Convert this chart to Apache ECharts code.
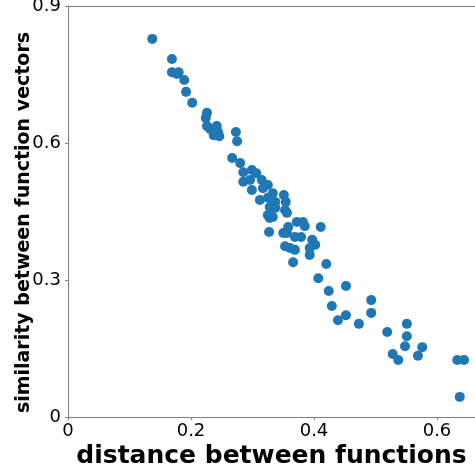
<!DOCTYPE html>
<html>
<head>
<meta charset="utf-8">
<script src="https://cdn.jsdelivr.net/npm/echarts@6/dist/echarts.min.js"></script>
<style>html,body{margin:0;padding:0;background:#fff}#c{width:475px;height:467px}</style>
</head>
<body>
<div id="c"></div>
<script>
const xTicks = [0, 0.2, 0.4, 0.6];
const yTicks = [0, 0.3, 0.6, 0.9];
const xTitle = 'distance between functions';
const yTitle = 'similarity between function vectors';
const distance = [
0.137,0.169,0.169,0.177,0.180,0.189,0.192,0.202,0.226,0.224,
0.226,0.231,0.236,0.242,0.241,0.244,0.246,0.237,0.273,0.275,
0.267,0.280,0.285,0.299,0.306,0.285,0.296,0.299,0.315,0.325,
0.317,0.333,0.312,0.325,0.337,0.351,0.354,0.328,0.337,0.325,
0.333,0.328,0.356,0.353,0.372,0.382,0.358,0.385,0.327,0.350,
0.356,0.369,0.379,0.411,0.397,0.402,0.353,0.361,0.369,0.393,
0.393,0.366,0.420,0.407,0.424,0.452,0.429,0.452,0.439,0.473,
0.493,0.493,0.519,0.551,0.551,0.548,0.576,0.528,0.537,0.569,
0.633,0.644,0.637
];
const similarity = [
0.828,0.784,0.755,0.751,0.755,0.738,0.712,0.688,0.666,0.655,
0.637,0.631,0.626,0.637,0.620,0.624,0.615,0.617,0.624,0.604,
0.567,0.556,0.536,0.541,0.534,0.515,0.519,0.497,0.519,0.508,
0.501,0.490,0.475,0.480,0.471,0.486,0.471,0.460,0.458,0.442,
0.438,0.436,0.447,0.453,0.427,0.427,0.416,0.418,0.405,0.403,
0.403,0.394,0.394,0.416,0.388,0.377,0.374,0.370,0.366,0.370,
0.355,0.339,0.335,0.304,0.276,0.287,0.243,0.223,0.212,0.204,
0.256,0.228,0.186,0.204,0.177,0.155,0.153,0.138,0.125,0.134,
0.125,0.125,0.044
];
const pts = distance.map((d, i) => [d, similarity[i]]);
const font = '"DejaVu Sans", sans-serif';
const spine = '#808080';
const fmt = ticks => v => {
  const t = ticks.find(k => Math.abs(k - v) < 1e-9);
  if (t === undefined) return '';
  return t === 0 ? '0' : t.toFixed(1);
};
const chart = echarts.init(document.getElementById('c'), null, {renderer: 'canvas'});
chart.setOption({
  animation: false,
  grid: {left: 68, right: 0, top: 6, bottom: 50, containLabel: false, outerBoundsMode: 'none'},
  xAxis: [{
    type: 'value', min: 0, max: 0.6618, interval: 0.2,
    name: xTitle, nameLocation: 'middle', nameGap: 27, nameMoveOverlap: false,
    nameTextStyle: {fontFamily: font, fontWeight: 'bold', fontSize: 25, color: '#000'},
    axisLine: {show: true, lineStyle: {color: spine, width: 1}},
    axisTick: {show: true, length: 3, lineStyle: {color: spine}},
    axisLabel: {fontFamily: font, fontSize: 18, color: '#000', margin: 5, showMaxLabel: false, formatter: fmt(xTicks)},
    splitLine: {show: false}
  }, {
    type: 'value', position: 'top', min: 0, max: 0.6618,
    axisLine: {show: true, lineStyle: {color: spine, width: 1}},
    axisTick: {show: false}, axisLabel: {show: false}, splitLine: {show: false}
  }],
  yAxis: [{
    type: 'value', min: 0, max: 0.9, interval: 0.3,
    name: yTitle, nameLocation: 'middle', nameGap: 34, nameMoveOverlap: false,
    nameTextStyle: {fontFamily: font, fontWeight: 'bold', fontSize: 19, color: '#000', padding: [0, 22, 0, 0]},
    axisLine: {show: true, lineStyle: {color: spine, width: 1}},
    axisTick: {show: true, length: 3, lineStyle: {color: spine}},
    axisLabel: {fontFamily: font, fontSize: 18, color: '#000', margin: 7, formatter: fmt(yTicks)},
    splitLine: {show: false}
  }],
  series: [{
    type: 'scatter', data: pts, symbolSize: 10,
    itemStyle: {color: '#1f77b4', opacity: 1}
  }]
});
</script>
</body>
</html>
